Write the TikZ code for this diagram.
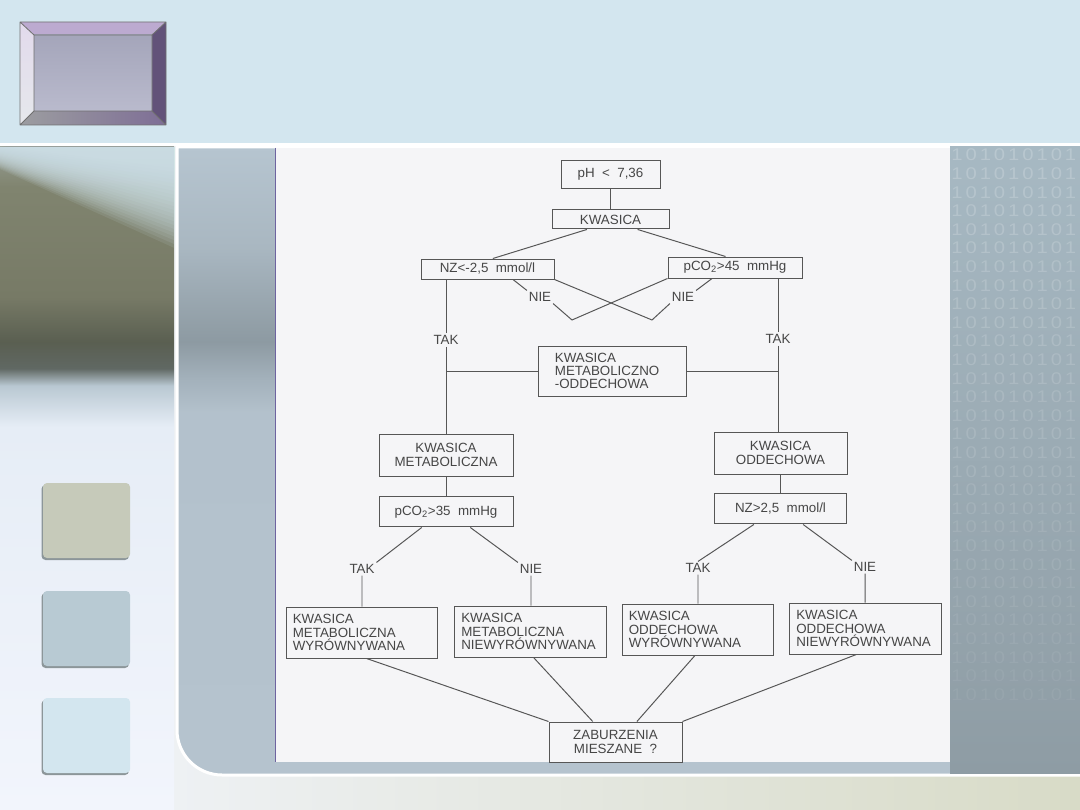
\documentclass[tikz,border=0pt]{standalone}
\usepackage{fontspec}
\setmainfont{Liberation Sans}
\usetikzlibrary{positioning,calc}
\definecolor{sky}{RGB}{211,230,239}
\definecolor{paper}{RGB}{245,245,247}
\definecolor{ink}{RGB}{70,70,70}
\definecolor{lead}{RGB}{86,86,86}
\definecolor{rim}{RGB}{112,112,112}
\definecolor{lilac}{RGB}{188,170,208}
\definecolor{plum}{RGB}{98,82,121}
\definecolor{haze}{RGB}{173,174,196}
\definecolor{edgeT}{RGB}{226,218,236}
\definecolor{edgeB}{RGB}{230,232,236}
\definecolor{edgeBl}{RGB}{156,157,160}
\definecolor{edgeBr}{RGB}{126,110,150}
\definecolor{sage}{RGB}{198,202,186}
\definecolor{mist}{RGB}{184,202,211}
\definecolor{frost}{RGB}{211,230,239}
\definecolor{shadow}{RGB}{140,150,153}
\definecolor{violetline}{RGB}{110,100,160}
\definecolor{pale}{RGB}{242,245,252}
\definecolor{dune}{RGB}{216,219,199}
\definecolor{lpA}{RGB}{230,237,246}
\definecolor{lpB}{RGB}{185,200,210}
\definecolor{lpC}{RGB}{96,104,99}
\definecolor{lpD}{RGB}{90,95,81}
\definecolor{lpE}{RGB}{119,122,102}
\definecolor{lpF}{RGB}{128,132,111}
\definecolor{lpG}{RGB}{150,158,148}
\definecolor{mpA}{RGB}{182,197,208}
\definecolor{mpB}{RGB}{169,183,193}
\definecolor{mpC}{RGB}{141,154,162}
\definecolor{mpD}{RGB}{162,176,186}
\definecolor{mpE}{RGB}{179,193,204}
\definecolor{mpF}{RGB}{181,195,206}
\definecolor{rsA}{RGB}{167,185,195}
\definecolor{rsB}{RGB}{142,156,164}
\pgfdeclareverticalshading{slab}{100bp}{color(0bp)=(pale); color(25bp)=(pale);
  color(53.9bp)=(lpA); color(57bp)=(lpB); color(58.3bp)=(lpC); color(60.3bp)=(lpD);
  color(63.7bp)=(lpE); color(72bp)=(lpF); color(75bp)=(lpG); color(100bp)=(lpG)}
\pgfdeclareverticalshading{deck}{100bp}{color(0bp)=(mpF); color(25bp)=(mpF);
  color(53.9bp)=(mpE); color(56.7bp)=(mpD); color(59.5bp)=(mpC);
  color(67bp)=(mpB); color(75bp)=(mpA); color(100bp)=(mpA)}
\newcommand{\chartfont}{\fontsize{9.5}{9.5}\selectfont}
\tikzset{
  box/.style={draw=lead,line width=0.7pt,inner sep=0pt,text=ink,font=\chartfont,align=center},
  lbox/.style={box,align=left,inner xsep=1.6mm,text width=34.6mm,minimum height=12.75mm},
  ans/.style={inner sep=1.2pt,text=ink,font=\chartfont},
  link/.style={draw=lead,line width=0.7pt},
  bevel/.style={draw=rim,line width=0.6pt,line join=round},
  tile/.style={rounded corners=1mm},
  digit/.style={inner sep=0pt,text=white,font=\fontsize{12}{12}\selectfont},
}

\begin{document}
\begin{tikzpicture}[x=0.25mm,y=-0.25mm]
\useasboundingbox (0,0) rectangle (1080,810);
\fill[white] (0,0) rectangle (1080,810);
\fill[sky] (0,0) rectangle (1080,143);
\shade[left color=pale,right color=dune] (0,147) rectangle (1080,810);
\shade[shading=slab] (0,147) rectangle (174,810);
\foreach \k in {0,...,21}
  \fill[sky,opacity=0.1] (0,147) -- (174,147) -- (174,168+3.8*\k) -- (0,146+1.1*\k) -- cycle;
\shadedraw[shading=deck,draw=white,line width=0.75mm] (177,147) -- (177,730)
  arc[start angle=180,end angle=270,radius=11.25mm] -- (1080,775) -- (1080,147) -- cycle;
\shade[top color=rsA,bottom color=rsB] (950,147) rectangle (1080,773.5);
\foreach \r in {0,...,29}{
  \foreach \c in {0,...,8}{
    \pgfmathtruncatemacro\dg{mod(\c+1,2)}
    \pgfmathsetmacro\op{0.2-0.005*\r}
    \node[digit,opacity=\op] (dg\r-\c) at (957+14.2*\c,155+18.6*\r) {\scalebox{1.2}[1]{\dg}};
  }
}
\fill[paper] (275,148) rectangle (950,762);
\draw[violetline,line width=0.5pt] (275,148) -- (275,762);

% bevelled frame
\fill[lilac] (20,22) -- (166,22) -- (152,35) -- (34,35) -- cycle;
\shade[top color=edgeT,bottom color=edgeB] (20,22) -- (34,35) -- (34,111) -- (20,125) -- cycle;
\fill[plum] (166,22) -- (166,125) -- (152,111) -- (152,35) -- cycle;
\shade[left color=edgeBl,right color=edgeBr] (20,125) -- (34,111) -- (152,111) -- (166,125) -- cycle;
\shade[top color=haze!95!black,bottom color=haze!85!white] (34,35) rectangle (152,111);
\draw[bevel] (20,22) rectangle (166,125) (34,35) rectangle (152,111)
  (20,22) -- (34,35) (166,22) -- (152,35) (166,125) -- (152,111) (20,125) -- (34,111);

% tiles
\foreach \y/\c in {483/sage,591/mist,698/frost}{
  \fill[tile,shadow] (41.5,\y+2) rectangle (129,\y+77);
  \fill[tile,\c] (43,\y) rectangle (130,\y+75);
}

% chart
\node[box,minimum width=24.75mm,minimum height=7mm] (ph) at (610.5,174) {pH~~<~~7,36};
\node[box,minimum width=29.25mm,minimum height=4.75mm,below=5.25mm of ph] (kw) {KWASICA};
\node[box,minimum width=33.25mm,minimum height=5mm] (nz1) at (487.5,269) {NZ<-2,5~~mmol/l};
\node[box,minimum width=33.5mm,minimum height=5.25mm] (pco1) at (735,267.5) {pCO\textsubscript{2}>45~~mmHg};
\node[box,align=left,text width=28.8mm,inner xsep=4.2mm,minimum height=12.5mm] (mix) at (612.5,371)
  {KWASICA\\METABOLICZNO\\-ODDECHOWA};
\node[box,minimum width=33.5mm,minimum height=10.5mm] (km) at (446,455) {KWASICA\\METABOLICZNA};
\node[box,minimum width=33.25mm,minimum height=10.5mm] (ko) at (780.5,453) {KWASICA\\ODDECHOWA};
\node[box,minimum width=33.5mm,minimum height=7.5mm,below=5mm of km] (pco2) {pCO\textsubscript{2}>35~~mmHg};
\node[box,minimum width=33mm,minimum height=7.5mm,below=4.75mm of ko] (nz2) {NZ>2,5~~mmol/l};
\node[lbox] (kmw) at (362,632.5) {KWASICA\\METABOLICZNA\\WYRÓWNYWANA};
\node[lbox] (kmn) at (530.5,631.5) {KWASICA\\METABOLICZNA\\NIEWYRÓWNYWANA};
\node[lbox] (kow) at (698,629.5) {KWASICA\\ODDECHOWA\\WYRÓWNYWANA};
\node[lbox] (kon) at (865.5,628.5) {KWASICA\\ODDECHOWA\\NIEWYRÓWNYWANA};
\node[box,minimum width=33.25mm,minimum height=10mm] (zab) at (615.5,742) {ZABURZENIA\\MIESZANE~~?};

\node[ans] (tak1) at (446,340) {TAK};
\node[ans] (tak2) at (778,339) {TAK};
\node[ans] (nie1) at (540,297) {NIE};
\node[ans] (nie2) at (683,297) {NIE};
\node[ans] (tak3) at (362,569) {TAK};
\node[ans] (nie3) at (531,569) {NIE};
\node[ans] (tak4) at (698,568) {TAK};
\node[ans] (nie4) at (865,567) {NIE};
\coordinate (vA) at (652,320);
\coordinate (vB) at (572,320);

\draw[link] (ph) -- (kw);
\draw[link] ($(kw.south west)!0.3!(kw.south east)$) -- ($(nz1.north west)!0.54!(nz1.north east)$);
\draw[link] ($(kw.south west)!0.73!(kw.south east)$) -- ($(pco1.north west)!0.43!(pco1.north east)$);
\draw[link] (tak1 |- nz1.south) -- (tak1.north) (tak1.south) -- (tak1 |- km.north);
\draw[link] (tak2 |- pco1.south) -- (tak2.north) (tak2.south) -- (tak2 |- ko.north);
\draw[link] (mix.west) -- (mix.west -| tak1) (mix.east) -- (mix.east -| tak2);
\draw[link] (nz1.south east) -- (vA) -- (nie2.south west)
  (nie2.north east) -- ($(pco1.south west)!0.33!(pco1.south east)$);
\draw[link] (pco1.south west) -- (vB) -- (nie1.south east)
  (nie1.north west) -- ($(nz1.south west)!0.69!(nz1.south east)$);
\draw[link] (km) -- (pco2);
\draw[link] (ko) -- (nz2);
\draw[link] ($(pco2.south west)!0.32!(pco2.south east)$) -- (tak3.north east) (tak3.south) -- (tak3 |- kmw.north);
\draw[link] ($(pco2.south west)!0.68!(pco2.south east)$) -- (nie3.north west) (nie3.south) -- (nie3 |- kmn.north);
\draw[link] ($(nz2.south west)!0.3!(nz2.south east)$) -- (tak4.north) (tak4.south) -- (tak4 |- kow.north);
\draw[link] ($(nz2.south west)!0.67!(nz2.south east)$) -- (nie4.north west) (nie4.south) -- (nie4 |- kon.north);
\draw[link] ($(kmw.south west)!0.53!(kmw.south east)$) -- (zab.north west);
\draw[link] ($(kmn.south west)!0.52!(kmn.south east)$) -- ($(zab.north west)!0.33!(zab.north east)$);
\draw[link] ($(kow.south west)!0.48!(kow.south east)$) -- ($(zab.north west)!0.66!(zab.north east)$);
\draw[link] ($(kon.south west)!0.44!(kon.south east)$) -- (zab.north east);
\end{tikzpicture}
\end{document}
